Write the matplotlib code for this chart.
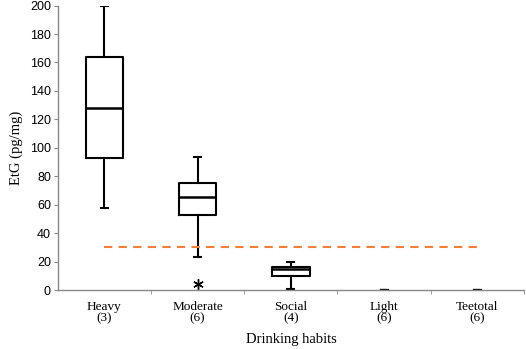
import matplotlib
matplotlib.use("Agg")
import matplotlib.pyplot as plt

# box statistics (pg/mg)
groups = ["Heavy", "Moderate", "Social", "Light", "Teetotal"]
counts = [3, 6, 4, 6, 6]
whislo = [58, 23.5, 1, 0, 0]
q1 = [93, 52.5, 10, 0, 0]
med = [128, 65.5, 14.5, 0, 0]
q3 = [164, 75, 16.2, 0, 0]
whishi = [200, 93.5, 19.5, 0, 0]
fliers = [[], [4.2], [], [], []]
cutoff = 30

stats = []
for i, g in enumerate(groups):
    stats.append({"label": f"{g}\n({counts[i]})", "whislo": whislo[i], "q1": q1[i],
                  "med": med[i], "q3": q3[i], "whishi": whishi[i], "fliers": fliers[i]})

fig = plt.figure(figsize=(5.26, 3.49), dpi=100)
ax = fig.add_axes([0.110, 0.169, 0.886, 0.815])

pos = list(range(1, len(groups) + 1))
widths = [0.4 if s["q3"] > s["q1"] else 0.06 for s in stats]
black = dict(color="black", linewidth=1.5)
ax.bxp(stats, positions=pos, widths=widths, showfliers=True,
       boxprops=black, whiskerprops=black, capprops=black,
       medianprops=dict(color="black", linewidth=1.8), capwidths=0.075,
       flierprops=dict(marker=(6, 2, 0), markersize=7.5, markeredgecolor="black",
                       markeredgewidth=1.0))

ax.plot([pos[0], pos[-1]], [cutoff, cutoff], "--", color="#f07f3c",
        linewidth=1.5, dashes=(4, 3))

ax.set_xlim(0.5, 5.5)
ax.set_ylim(0, 200)
ax.set_yticks(range(0, 201, 20))
ax.set_xticks(pos)
ax.set_xticklabels([s["label"] for s in stats], family="Liberation Serif",
                   fontsize=9.5, linespacing=0.95)
ax.set_xticks([p + 0.5 for p in pos], minor=True)
ax.tick_params(axis="x", which="major", length=0, pad=8)
ax.tick_params(axis="x", which="minor", length=3, color="#888888")
ax.tick_params(axis="y", length=3, color="#888888", labelsize=9, pad=2)
for lab in ax.get_yticklabels():
    lab.set_family("Liberation Sans")

for side in ["top", "right"]:
    ax.spines[side].set_visible(False)
for side in ["left", "bottom"]:
    ax.spines[side].set_color("#888888")
    ax.spines[side].set_linewidth(1.0)

ax.set_ylabel("EtG (pg/mg)", family="Liberation Serif", fontsize=10.5, labelpad=5)
ax.set_xlabel("Drinking habits", family="Liberation Serif", fontsize=10.5, labelpad=6)

fig.savefig("out.png", dpi=100)
